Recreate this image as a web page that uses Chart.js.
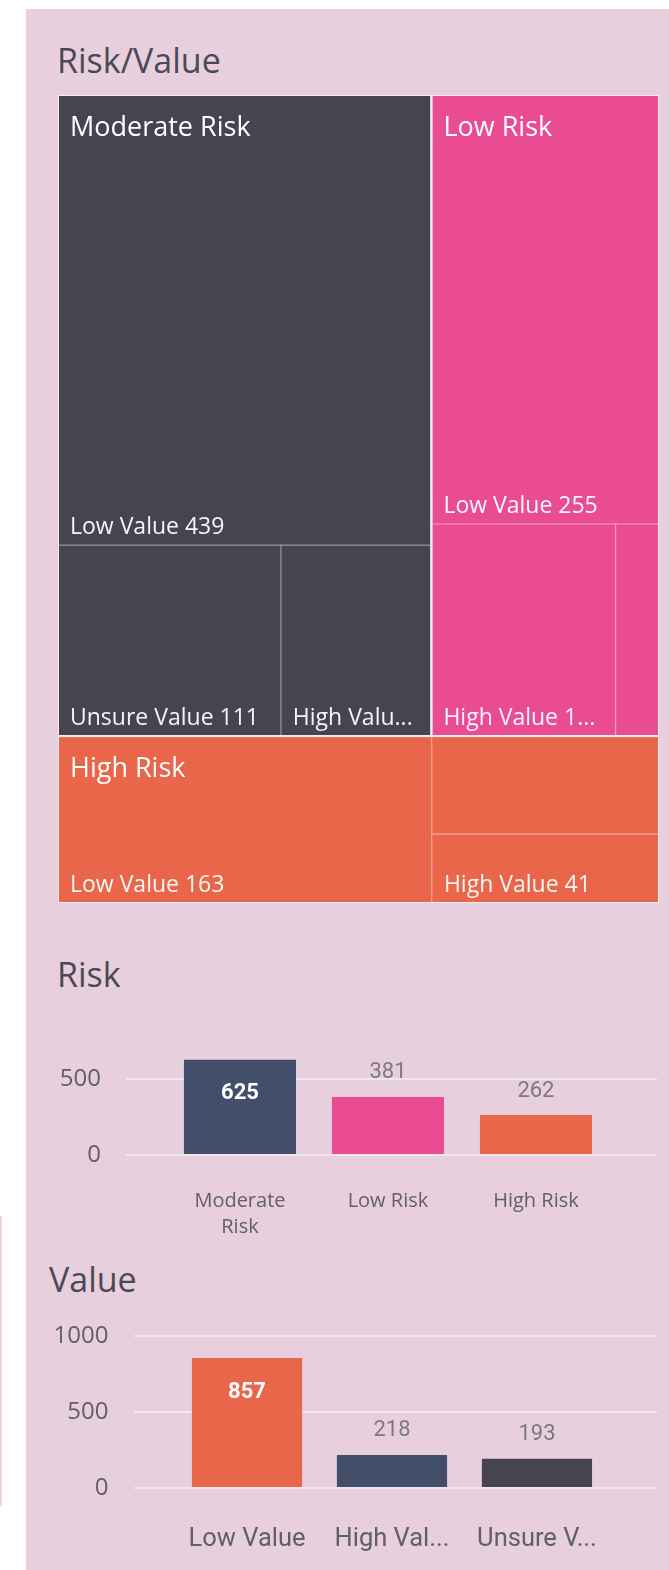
<!DOCTYPE html>
<html>
<head>
<meta charset="utf-8">
<title>Risk / Value</title>
<script src="https://cdn.jsdelivr.net/npm/chart.js@4.4.1/dist/chart.umd.min.js"></script>
<style>
    html, body { margin: 0; padding: 0; background: #ffffff; }
    body { position: relative; width: 669px; height: 1570px; overflow: hidden; font-family: "Open Sans", sans-serif; }
    .panel { position: absolute; left: 26px; top: 9px; width: 643px; height: 1561px; background: #e8cfdd; }
    .edge { position: absolute; left: 0; top: 1216px; width: 2px; height: 290px; background: #ecd3e1; }
    .title { position: absolute; font-size: 34px; line-height: 34px; color: #4a4a55; white-space: nowrap; }
    canvas { position: absolute; }
</style>
</head>
<body>
<div class="panel"></div>
<div class="edge"></div>

<div class="title" style="left:57px; top:43px;">Risk/Value</div>
<div class="title" style="left:57px; top:957px;">Risk</div>
<div class="title" style="left:49px; top:1262px;">Value</div>

<div style="position:absolute; left:58px; top:95px; width:601px; height:808px;"><canvas id="treemap"></canvas></div>
<div style="position:absolute; left:0; top:1009px; width:669px; height:241px;"><canvas id="riskChart"></canvas></div>
<div style="position:absolute; left:0; top:1297px; width:669px; height:261px;"><canvas id="valueChart"></canvas></div>

<script>
// categories
const RISK_LABELS = ['Moderate Risk', 'Low Risk', 'High Risk'];
const VALUE_LABELS = ['Low Value', 'High Value', 'Unsure Value'];

// treemap cells, one array per risk, in VALUE_LABELS order
const MODERATE_RISK_CELLS = [439, 75, 111];
const LOW_RISK_CELLS = [255, 102, 24];
const HIGH_RISK_CELLS = [163, 41, 58];

// totals shown in the bar charts
const RISK_TOTALS = [625, 381, 262];
const VALUE_TOTALS = [857, 218, 193];

// axis ticks
const RISK_TICKS = [0, 500];
const VALUE_TICKS = [0, 500, 1000];

const TREEMAP_COLORS = ['#454450', '#ea4c94', '#e9664a'];
const RISK_BAR_COLORS = ['#424e6a', '#ea4c94', '#e9664a'];
const VALUE_BAR_COLORS = ['#e9664a', '#424e6a', '#454450'];

Chart.defaults.font.family = '"Open Sans", sans-serif';
Chart.defaults.animation = false;
Chart.defaults.responsive = true;
Chart.defaults.maintainAspectRatio = false;
Chart.defaults.plugins.legend.display = false;
Chart.defaults.plugins.tooltip.enabled = false;

// squarified layout (same idea as d3.treemapSquarify with the golden ratio)
const PHI = (1 + Math.sqrt(5)) / 2;
const squarify = (values, x0, y0, x1, y1) => {
    const nodes = values.map((v, i) => ({ v: v, i: i })).sort((a, b) => b.v - a.v);
    const rects = new Array(values.length);
    let total = nodes.reduce((s, n) => s + n.v, 0);
    let i0 = 0;
    while (i0 < nodes.length) {
        const dx = x1 - x0, dy = y1 - y0;
        let i1 = i0;
        let sum = nodes[i1++].v, min = sum, max = sum;
        const alpha = Math.max(dy / dx, dx / dy) / (total * PHI);
        let beta = sum * sum * alpha;
        let minRatio = Math.max(max / beta, beta / min);
        for (; i1 < nodes.length; i1++) {
            const v = nodes[i1].v;
            const s2 = sum + v;
            const mn = Math.min(min, v), mx = Math.max(max, v);
            beta = s2 * s2 * alpha;
            const ratio = Math.max(mx / beta, beta / mn);
            if (ratio > minRatio * 1.01) break;
            sum = s2; min = mn; max = mx; minRatio = ratio;
        }
        const row = nodes.slice(i0, i1);
        if (dx < dy) {
            const h = dy * sum / total;
            let x = x0;
            row.forEach(n => {
                const w = dx * n.v / sum;
                rects[n.i] = { x0: x, y0: y0, x1: x + w, y1: y0 + h };
                x += w;
            });
            y0 += h;
        } else {
            const w = dx * sum / total;
            let y = y0;
            row.forEach(n => {
                const h = dy * n.v / sum;
                rects[n.i] = { x0: x0, y0: y, x1: x0 + w, y1: y + h };
                y += h;
            });
            x0 += w;
        }
        total -= sum;
        i0 = i1;
    }
    return rects;
};

const fitText = (ctx, text, maxWidth) => {
    if (ctx.measureText(text).width <= maxWidth) return text;
    let t = text;
    while (t.length > 0 && ctx.measureText(t + '...').width > maxWidth) t = t.slice(0, -1);
    return t.length > 2 ? t.trimEnd() + '...' : '';
};

// treemap drawn on linear x / y scales
const TM_W = 601, TM_H = 808;
const treemapPlugin = {
    id: 'treemapCells',
    afterDatasetsDraw(chart) {
        const ctx = chart.ctx;
        const xs = chart.scales.x, ys = chart.scales.y;
        const cells = [MODERATE_RISK_CELLS, LOW_RISK_CELLS, HIGH_RISK_CELLS];
        const parents = squarify(cells.map(c => c.reduce((a, b) => a + b, 0)), 0, 0, TM_W, TM_H);
        const px = r => ({
            left: xs.getPixelForValue(r.x0), right: xs.getPixelForValue(r.x1),
            top: ys.getPixelForValue(r.y0), bottom: ys.getPixelForValue(r.y1)
        });

        ctx.save();
        parents.forEach((p, pi) => {
            const kids = squarify(cells[pi], p.x0, p.y0, p.x1, p.y1);
            kids.forEach((k, ki) => {
                const b = px(k);
                ctx.fillStyle = TREEMAP_COLORS[pi];
                ctx.fillRect(b.left, b.top, b.right - b.left, b.bottom - b.top);
                ctx.strokeStyle = 'rgba(255,255,255,0.22)';
                ctx.lineWidth = 1.5;
                ctx.strokeRect(b.left, b.top, b.right - b.left, b.bottom - b.top);

                // label at the bottom left, when there is room for it
                ctx.font = '23px "Open Sans", sans-serif';
                ctx.fillStyle = 'rgba(255,255,255,0.95)';
                ctx.textBaseline = 'alphabetic';
                ctx.textAlign = 'left';
                const touchesHeader = Math.abs(k.y0 - p.y0) < 0.5;
                const room = (b.bottom - b.top) - (touchesHeader ? 62 : 0);
                if (room >= 40) {
                    const txt = fitText(ctx, VALUE_LABELS[ki] + ' ' + cells[pi][ki], b.right - b.left - 30);
                    if (txt) ctx.fillText(txt, b.left + 12, b.bottom - 11);
                }
            });
        });
        parents.forEach((p, pi) => {
            const b = px(p);
            ctx.strokeStyle = '#f4eaf0';
            ctx.lineWidth = 2;
            ctx.strokeRect(b.left, b.top, b.right - b.left, b.bottom - b.top);
            ctx.font = '27px "Open Sans", sans-serif';
            ctx.fillStyle = '#ffffff';
            ctx.textBaseline = 'alphabetic';
            ctx.textAlign = 'left';
            ctx.fillText(RISK_LABELS[pi], b.left + 12, b.top + 41);
        });
        ctx.restore();
    }
};

new Chart(document.getElementById('treemap').getContext('2d'), {
    type: 'scatter',
    data: { datasets: [] },
    options: {
        layout: { padding: 0, autoPadding: false },
        scales: {
            x: { type: 'linear', min: 0, max: TM_W, display: false },
            y: { type: 'linear', min: 0, max: TM_H, reverse: true, display: false }
        }
    },
    plugins: [treemapPlugin]
});

// value labels: inside the bar when there is no room above it
const barLabelsPlugin = {
    id: 'barLabels',
    afterDatasetsDraw(chart) {
        const ctx = chart.ctx;
        const meta = chart.getDatasetMeta(0);
        const values = chart.data.datasets[0].data;
        ctx.save();
        ctx.textAlign = 'center';
        ctx.textBaseline = 'middle';
        meta.data.forEach((bar, i) => {
            const value = values[i].y;
            if (bar.y - 40 < chart.chartArea.top) {
                ctx.font = 'bold 22px Roboto, sans-serif';
                ctx.fillStyle = '#ffffff';
                ctx.fillText(value, bar.x, bar.y + 34);
            } else {
                ctx.font = '22px Roboto, sans-serif';
                ctx.fillStyle = '#7a7a80';
                ctx.fillText(value, bar.x, bar.y - 24);
            }
        });
        ctx.restore();
    }
};

const barChart = (canvasId, labels, values, colors, ticks, opts) => {
    new Chart(document.getElementById(canvasId).getContext('2d'), {
        type: 'bar',
        data: {
            datasets: [{
                data: values.map((v, i) => ({ x: i, y: v })),
                backgroundColor: colors,
                borderWidth: 0,
                barPercentage: opts.barPercentage,
                categoryPercentage: 1
            }]
        },
        options: {
            layout: { padding: { top: opts.top, right: 12, left: 0, bottom: 0 }, autoPadding: false },
            scales: {
                x: {
                    type: 'linear',
                    offset: false,
                    min: opts.xMin,
                    max: opts.xMax,
                    grid: { display: false },
                    border: { display: false },
                    afterBuildTicks: s => { s.ticks = labels.map((_, i) => ({ value: i })); },
                    afterFit: s => { s.height = opts.xHeight; },
                    ticks: {
                        autoSkip: false,
                        maxRotation: 0,
                        padding: opts.xPadding,
                        color: '#606068',
                        font: opts.xFont,
                        callback: v => opts.xLabel(labels[v])
                    }
                },
                y: {
                    min: 0,
                    max: opts.yMax,
                    afterBuildTicks: s => { s.ticks = ticks.map(t => ({ value: t })); },
                    afterFit: s => { s.width = opts.yWidth; },
                    grid: { color: '#f1e6ec', lineWidth: 2, drawTicks: false },
                    border: { display: false },
                    ticks: { padding: 25, color: '#606068', font: { size: 24 }, callback: v => String(v) }
                }
            }
        },
        plugins: [barLabelsPlugin]
    });
};

const wrapLabel = text => (text.length > 10 ? text.split(' ') : text);
const measureCtx = document.createElement('canvas').getContext('2d');
const truncLabel = text => {
    measureCtx.font = '25.5px Roboto, sans-serif';
    return fitText(measureCtx, text, 121);
};

barChart('riskChart', RISK_LABELS, RISK_TOTALS, RISK_BAR_COLORS, RISK_TICKS, {
    top: 18.6, yMax: 700, yWidth: 126, xMin: -0.77, xMax: 2.818,
    barPercentage: 0.757, xHeight: 95, xPadding: 25,
    xFont: { size: 20, lineHeight: 1.32 }, xLabel: wrapLabel
});

barChart('valueChart', VALUE_LABELS, VALUE_TOTALS, VALUE_BAR_COLORS, VALUE_TICKS, {
    top: 18, yMax: 1000, yWidth: 133.5, xMin: -0.783, xMax: 2.828,
    barPercentage: 0.76, xHeight: 70, xPadding: 28,
    xFont: { family: 'Roboto, sans-serif', size: 25.5 }, xLabel: truncLabel
});
</script>
</body>
</html>
